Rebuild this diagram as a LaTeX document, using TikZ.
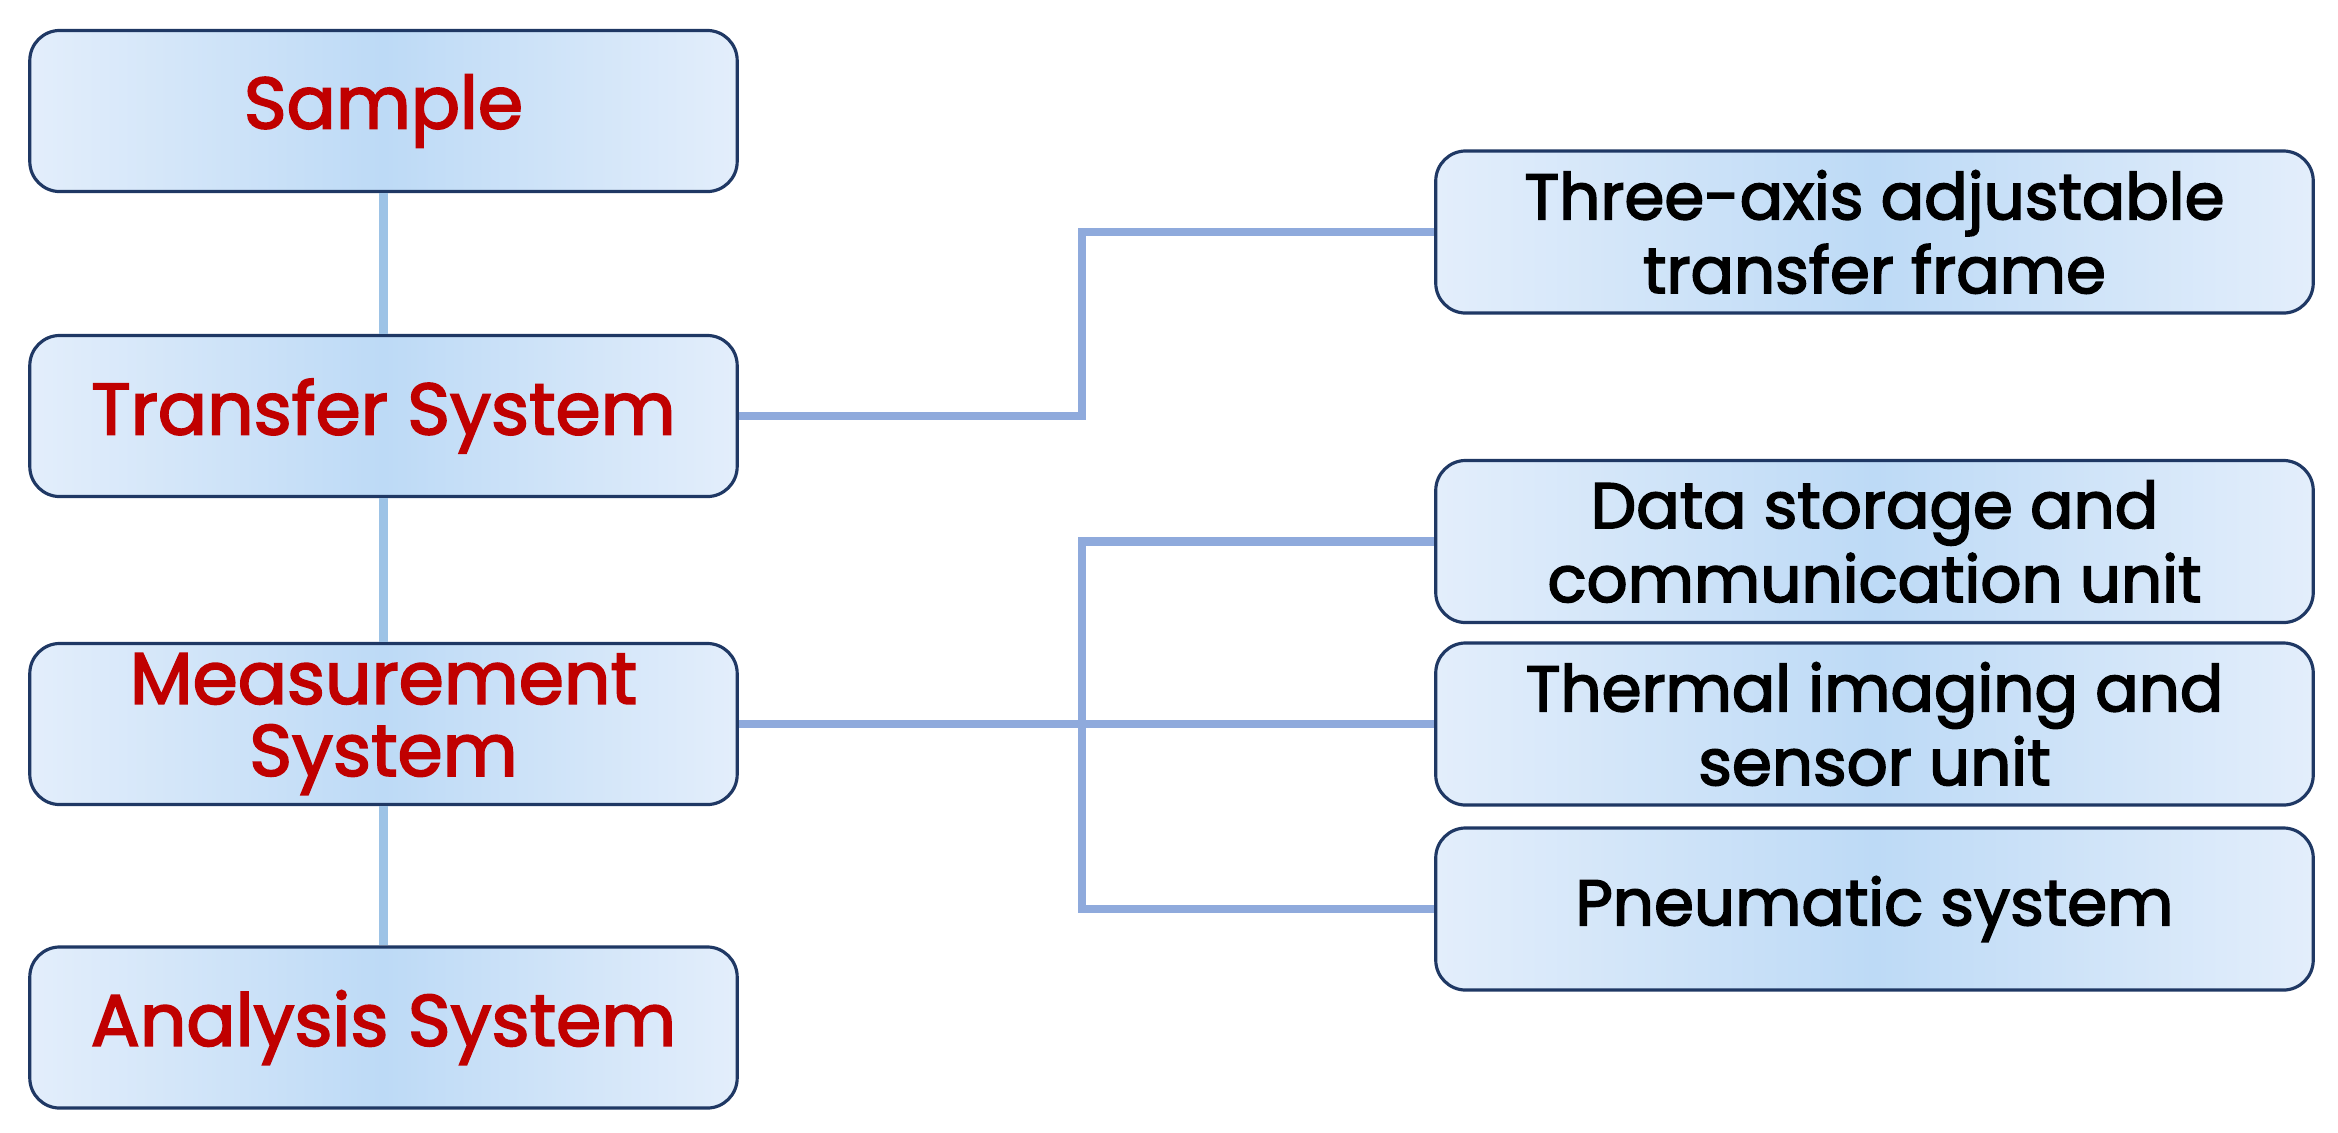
\documentclass[tikz,border=0pt]{standalone}
\usepackage{fontspec}
\setmainfont{Poppins}[FakeBold=2.5]
\definecolor{boxborder}{HTML}{1F3864}
\definecolor{edgeblue}{HTML}{E3EEFB}
\definecolor{midblue}{HTML}{BDDAF6}
\definecolor{redtext}{HTML}{C00000}
\definecolor{vline}{HTML}{9DC3E6}
\definecolor{hline}{HTML}{8FAADC}
\begin{document}
\begin{tikzpicture}[x=0.01cm,y=-0.01cm,
  box/.style={draw=boxborder, line width=0.9pt, rounded corners=0.3cm,
    left color=edgeblue, right color=edgeblue, middle color=midblue,
    align=center, inner sep=0pt},
  leftbox/.style={box, minimum width=7.07cm, minimum height=1.61cm,
    text=redtext, font=\fontsize{20.7}{20.5}\selectfont},
  rightbox/.style={box, minimum width=8.77cm, minimum height=1.62cm,
    text=black, font=\fontsize{18.3}{21}\selectfont},
  vlink/.style={draw=vline, line width=2.3pt},
  hlink/.style={draw=hline, line width=2.3pt}]
\useasboundingbox (0,0) rectangle (2338,1132);
\node[leftbox] (sample) at (383.5,111) {Sample};
\node[leftbox] (transfer) at (383.5,416) {Transfer System};
\node[leftbox] (meas) at (383.5,724) {Measurement\\System};
\node[leftbox] (analysis) at (383.5,1027.5) {Analysis System};
\node[rightbox] (three) at (1874.5,232) {Three-axis adjustable\\transfer frame};
\node[rightbox] (data) at (1874.5,541.5) {Data storage and\\communication unit};
\node[rightbox] (thermal) at (1874.5,724) {Thermal imaging and\\sensor unit};
\node[rightbox] (pneu) at (1874.5,909) {Pneumatic system};
\coordinate (busT) at (1082,416);
\coordinate (busM) at (1082,724);
\draw[vlink] (sample) -- (transfer);
\draw[vlink] (transfer) -- (meas);
\draw[vlink] (meas) -- (analysis);
\draw[hlink] (transfer.east) -- (busT) |- (three.west);
\draw[hlink] (meas.east) -- (thermal.west);
\draw[hlink] (busM) |- (data.west);
\draw[hlink] (busM) |- (pneu.west);
\end{tikzpicture}
\end{document}
